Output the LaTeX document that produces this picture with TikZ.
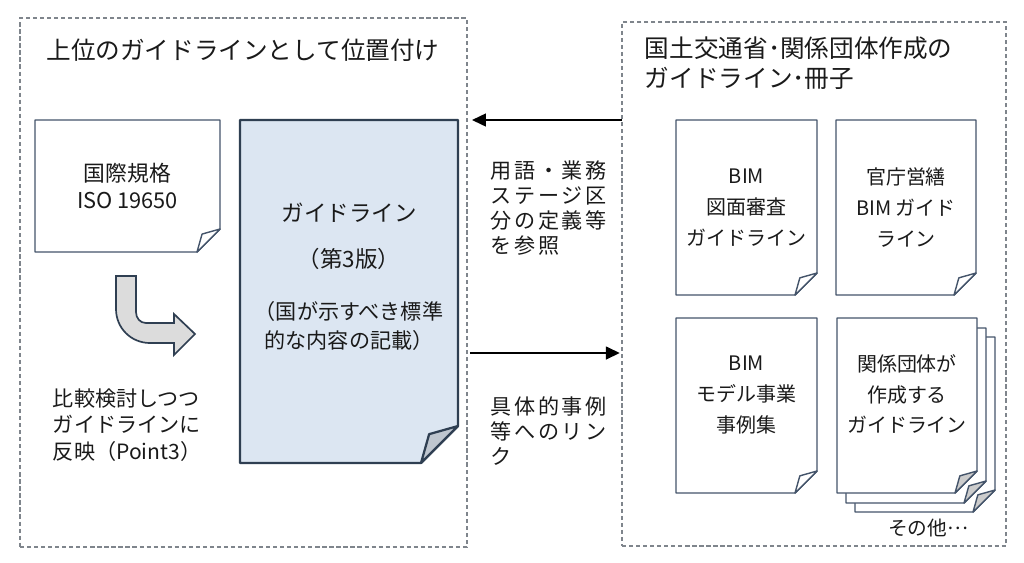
\documentclass[tikz,border=0pt]{standalone}
\usepackage{fontspec}
\setmainfont{Noto Sans CJK JP}
\usepackage{tikz}
\usetikzlibrary{positioning,arrows.meta,calc,backgrounds}
\definecolor{ink}{HTML}{1A1A1A}
\definecolor{frame}{HTML}{7F858C}
\definecolor{slate}{HTML}{44546A}
\definecolor{deep}{HTML}{2F3F52}
\definecolor{paleblue}{HTML}{DCE6F2}
\definecolor{flapgray}{HTML}{BFC6CF}
\definecolor{stackgray}{HTML}{CCCCCC}
\definecolor{arrowgray}{HTML}{DCDCDC}
\newlength{\pxu}\setlength{\pxu}{0.025cm}

% page outline with folded corner: node, fill, flap fill, fold, offset, line style
\newcommand{\docpage}[6]{%
  \draw[#6, fill=#2]
    ($(#1.north west)+(#5)$) -- ($(#1.north east)+(#5)$)
    -- ($(#1.south east)+(#5)+(0,-#4)$)
    -- ($(#1.south east)+(#5)+(-#4,0)$)
    -- ($(#1.south west)+(#5)$) -- cycle;
  \draw[#6, fill=#3]
    ($(#1.south east)+(#5)+(0,-#4)$)
    -- ($(#1.south east)+(#5)+(-0.78*#4,-0.78*#4)$)
    -- ($(#1.south east)+(#5)+(-#4,0)$) -- cycle;
}

\begin{document}
\begin{tikzpicture}[
  x=0.025cm, y=-0.025cm,
  text=ink,
  font=\fontsize{15}{18}\selectfont,
  grp/.style={draw=frame, line width=0.8pt, dash pattern=on 3pt off 2pt,
              inner sep=0pt, outer sep=0pt},
  page/.style={inner sep=0pt, outer sep=0pt, align=center},
  ttl/.style={font=\fontsize{17.5}{21.3}\selectfont},
  isotxt/.style={font=\fontsize{15.5}{19}\selectfont},
  doctxt/.style={align=center, font=\fontsize{14.2}{22}\selectfont},
  bigtxt/.style={align=center, font=\fontsize{16}{33}\selectfont},
  body/.style={align=left, font=\fontsize{15}{19}\selectfont},
  spaced/.style={align=left, font=\fontsize{15}{17.7}\selectfont\addfontfeature{LetterSpace=12}},
  docline/.style={draw=slate, line width=1pt, line join=round},
  mainline/.style={draw=deep, line width=1.6pt, line join=round},
  bendarrow/.style={fill=arrowgray, draw=deep, line width=1.2pt, line join=miter},
  ar/.style={-{Triangle[length=10pt,width=9pt]}, draw=black, line width=1.8pt}
]
\useasboundingbox (0,0) rectangle (1024,562);

% groups
\node[grp, minimum width=447\pxu, minimum height=529\pxu] (lgrp) at (243.5,282.5) {};
\node[grp, minimum width=384\pxu, minimum height=524\pxu] (rgrp) at (814,284) {};

\node[ttl] (ltitle) at (243,50) {上位のガイドラインとして位置付け};
\node[ttl, anchor=west, align=left] (rtitle) at (640,63)
  {国土交通省･関係団体作成の\\ガイドライン･冊子};

% pages
\node[page, isotxt, minimum width=185\pxu, minimum height=132\pxu] (iso) at (127.5,186)
  {国際規格\\ISO 19650};
\node[page, minimum width=218\pxu, minimum height=343\pxu] (gl) at (349,291.5) {};
\node[page, doctxt, minimum width=141\pxu, minimum height=175\pxu] (d1) at (746.5,207.5)
  {BIM\\図面審査\\ガイドライン};
\node[page, doctxt, minimum width=140\pxu, minimum height=175\pxu] (d2) at (906,207.5)
  {官庁営繕\\BIM ガイド\\ライン};
\node[page, minimum width=141\pxu, minimum height=175\pxu] (d3) at (746.5,405.5) {};
\node[page, minimum width=140\pxu, minimum height=175\pxu] (d4) at (907,405.5) {};

\begin{pgfonlayer}{background}
  \docpage{iso}{white}{white}{23}{0,0}{docline}
  \docpage{gl}{paleblue}{flapgray}{37}{0,0}{mainline}
  \docpage{d1}{white}{white}{22}{0,0}{docline}
  \docpage{d2}{white}{white}{22}{0,0}{docline}
  \docpage{d3}{white}{white}{22}{0,0}{docline}
  \docpage{d4}{white}{stackgray}{22}{18,19}{docline}
  \docpage{d4}{white}{stackgray}{22}{9,10}{docline}
  \docpage{d4}{white}{stackgray}{22}{0,0}{docline}
\end{pgfonlayer}

\node[bigtxt] (glt) at (349,236.5) {ガイドライン\\（第3版）};
\node[body, align=center, font=\fontsize{15}{20}\selectfont] (gls) at (349,326)
  {（国が示すべき標準\\的な内容の記載）};
\node[doctxt] (d3t) at (746.5,395) {BIM\\モデル事業\\事例集};
\node[doctxt] (d4t) at (907,394) {関係団体が\\作成する\\ガイドライン};
\node[font=\fontsize{14}{16}\selectfont] (etc) at (928,528) {その他\raisebox{0.3em}{…}};

% bent arrow
\draw[bendarrow] (116,276) -- (136,276) -- (136,312)
  .. controls (136,318) and (140,323) .. (146,323) -- (174,323) -- (174,314)
  -- (195,334) -- (174,355) -- (174,343) -- (150,343)
  .. controls (131,343) and (116,328) .. (116,309) -- cycle;

\node[body, anchor=west] (cmp) at (48,425) {比較検討しつつ\\ガイドラインに\\反映（Point3）};

% links between groups
\draw[ar, shorten >=3.5pt] (rgrp.west |- gl.north) -- (lgrp.east |- gl.north);
\node[spaced, anchor=west] (terms) at (486,208) {用語・業務\\ステージ区\\分の定義等\\を参照};

\coordinate (lk) at (0,353);
\draw[ar, shorten <=2pt, shorten >=1.5pt] (lgrp.east |- lk) -- (rgrp.west |- lk);
\node[spaced, anchor=west] (cases) at (486,431) {具体的事例\\等へのリン\\ク};
\end{tikzpicture}
\end{document}
